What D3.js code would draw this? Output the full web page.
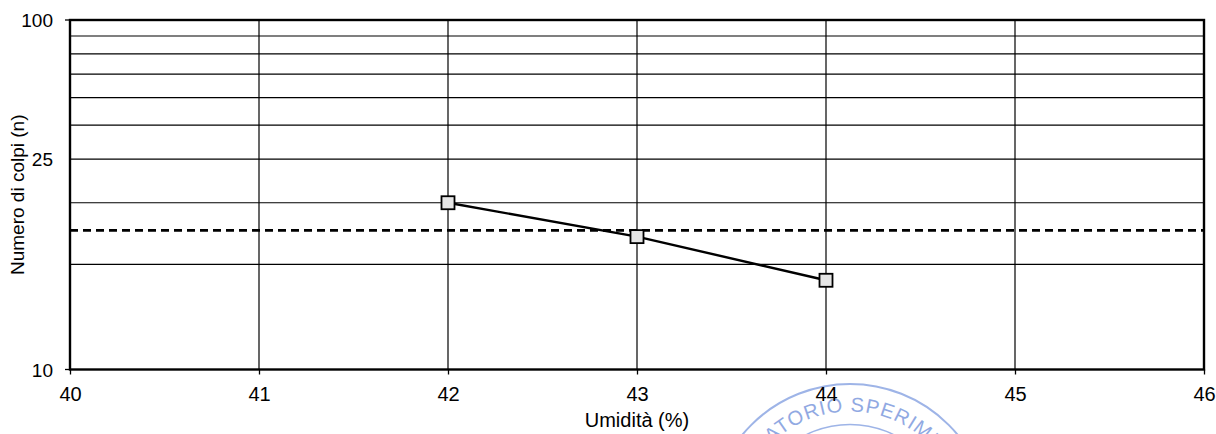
<!DOCTYPE html>
<html>
<head>
<meta charset="utf-8">
<script src="https://cdn.jsdelivr.net/npm/d3@7"></script>
<style>
  html, body { margin: 0; padding: 0; background: #fff; }
  svg { display: block; }
  text { font-family: "Liberation Sans", Arial, sans-serif; fill: #000; }
</style>
</head>
<body>
<svg id="chart" width="1216" height="434"></svg>
<script>
// Limiti di Atterberg - prova di Casagrande
const moisture = [42, 43, 44];          // Umidità (%)
const blows = [30, 24, 18];             // Numero di colpi
const referenceBlows = 25;              // linea di riferimento a 25 colpi

const xTicks = [40, 41, 42, 43, 44, 45, 46];
const yGridValues = [20, 30, 40, 50, 60, 70, 80, 90];
const yTickValues = [10, 40, 100];
const yTickLabels = ["10", "25", "100"];

const xTitle = "Umidità (%)";
const yTitle = "Numero di colpi (n)";
const stampText = "LABORATORIO SPERIMENTALE";

const W = 1216, H = 434;
const margin = { left: 70, right: 12, top: 20, bottom: 64.5 };
const svg = d3.select("#chart");

const x = d3.scaleLinear().domain([40, 46]).range([margin.left, W - margin.right]);
const y = d3.scaleLog().domain([10, 100]).range([H - margin.bottom, margin.top]);

// timbro del laboratorio (sotto al grafico)
const stamp = svg.append("g").attr("opacity", 0.8);
const cx = 850, cy = 523.5, rOut = 139.5, rIn = 99, rText = 112;
stamp.append("circle").attr("cx", cx).attr("cy", cy).attr("r", rOut)
  .attr("fill", "none").attr("stroke", "#86a2e2").attr("stroke-width", 2);
stamp.append("circle").attr("cx", cx).attr("cy", cy).attr("r", rIn)
  .attr("fill", "none").attr("stroke", "#86a2e2").attr("stroke-width", 1.4);
stamp.append("path").attr("id", "stampArc")
  .attr("d", `M${cx - rText},${cy} A${rText},${rText} 0 0 1 ${cx + rText},${cy}`)
  .attr("fill", "none");
stamp.append("text")
  .attr("font-family", "Liberation Serif, 'Times New Roman', serif")
  .attr("font-size", 20).attr("letter-spacing", 1)
  .style("fill", "#7694dc")
  .append("textPath").attr("href", "#stampArc").attr("startOffset", 16)
  .text(stampText);

const g = svg.append("g");

// griglia verticale
g.selectAll(".vgrid").data(xTicks.slice(1, -1)).join("line")
  .attr("x1", d => x(d)).attr("x2", d => x(d))
  .attr("y1", y(100)).attr("y2", y(10))
  .attr("stroke", "#000").attr("stroke-width", 1.2);

// griglia orizzontale
g.selectAll(".hgrid").data(yGridValues).join("line")
  .attr("x1", x(40)).attr("x2", x(46))
  .attr("y1", d => y(d)).attr("y2", d => y(d))
  .attr("stroke", "#000").attr("stroke-width", 1.2);

// linea tratteggiata a 25 colpi
g.append("line")
  .attr("x1", x(40)).attr("x2", x(46))
  .attr("y1", y(referenceBlows)).attr("y2", y(referenceBlows))
  .attr("stroke", "#000").attr("stroke-width", 2.6)
  .attr("stroke-dasharray", "8,5");

// cornice dell'area del grafico
g.append("rect")
  .attr("x", x(40)).attr("y", y(100))
  .attr("width", x(46) - x(40)).attr("height", y(10) - y(100))
  .attr("fill", "none").attr("stroke", "#000").attr("stroke-width", 2.4);

// asse x
const xAxis = d3.axisBottom(x).tickValues(xTicks).tickSize(5).tickFormat(d3.format("d"));
const gx = svg.append("g").attr("transform", `translate(0,${y(10)})`).call(xAxis);
gx.select(".domain").remove();
gx.selectAll(".tick line").attr("stroke", "#000").attr("stroke-width", 1.3);
gx.selectAll(".tick text").attr("font-size", 20).attr("dy", 0).attr("y", 31)
  .attr("font-family", "Liberation Sans, Arial, sans-serif");

// asse y (logaritmico)
const yAxis = d3.axisLeft(y).tickValues(yTickValues).tickSize(0)
  .tickFormat((d, i) => yTickLabels[i]);
const gy = svg.append("g").attr("transform", `translate(${x(40)},0)`).call(yAxis);
gy.select(".domain").remove();
gy.selectAll(".tick text").attr("font-size", 19).attr("x", -17).attr("dy", "0.36em")
  .attr("font-family", "Liberation Sans, Arial, sans-serif");
// piccoli segni di tacca agli estremi
svg.selectAll(".ytickmark").data([10, 100]).join("line")
  .attr("x1", x(40) - 5).attr("x2", x(40))
  .attr("y1", d => y(d)).attr("y2", d => y(d))
  .attr("stroke", "#000").attr("stroke-width", 1.3);

// curva di flusso
const pts = moisture.map((m, i) => [m, blows[i]]);
g.append("path").datum(pts)
  .attr("d", d3.line().x(d => x(d[0])).y(d => y(d[1])))
  .attr("fill", "none").attr("stroke", "#000").attr("stroke-width", 2.4);

const ms = 13;
g.selectAll(".marker").data(pts).join("rect")
  .attr("x", d => x(d[0]) - ms / 2).attr("y", d => y(d[1]) - ms / 2)
  .attr("width", ms).attr("height", ms)
  .attr("fill", "#e6e6e6").attr("stroke", "#000").attr("stroke-width", 1.8);

// titoli degli assi
svg.append("text")
  .attr("x", (x(40) + x(46)) / 2).attr("y", 427)
  .attr("text-anchor", "middle").attr("font-size", 20)
  .text(xTitle);

svg.append("text")
  .attr("transform", `translate(24,${(y(10) + y(100)) / 2}) rotate(-90)`)
  .attr("text-anchor", "middle").attr("font-size", 19)
  .text(yTitle);
</script>
</body>
</html>
